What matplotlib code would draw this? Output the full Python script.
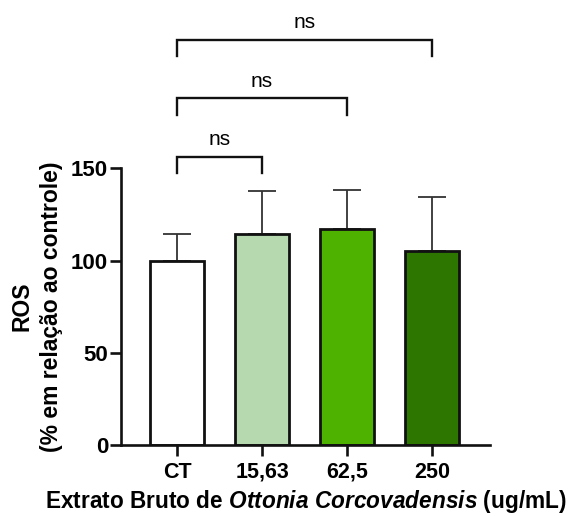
import matplotlib
matplotlib.use("Agg")
import matplotlib.pyplot as plt

plt.rcParams['font.family'] = ['Liberation Sans', 'DejaVu Sans']
plt.rcParams['mathtext.fontset'] = 'custom'
plt.rcParams['mathtext.it'] = 'Liberation Sans:italic:bold'
plt.rcParams['mathtext.rm'] = 'Liberation Sans:bold'

categories = ["CT", "15,63", "62,5", "250"]
means = [100.0, 114.5, 117.0, 105.2]
errors = [14.2, 23.2, 21.0, 29.5]
comparisons = [(0, 1), (0, 2), (0, 3)]
comp_labels = ["ns", "ns", "ns"]

bar_colors = ["#ffffff", "#b6d9b0", "#4db300", "#2d7600"]

fig = plt.figure(figsize=(5.7, 5.16), dpi=100)
ax = fig.add_axes([120.7 / 570, 71 / 516, 369.3 / 570, 276.7 / 516])

x = list(range(len(categories)))
ax.bar(x, means, width=0.635, color=bar_colors, edgecolor="#111111",
       linewidth=2.0, zorder=2)
ax.errorbar(x, means, yerr=[[0] * len(errors), errors], fmt="none",
            ecolor="#333333", elinewidth=1.3, capsize=10, capthick=1.3, zorder=1)

ax.set_xlim(-0.662, 3.678)
ax.set_ylim(0, 150)
ax.set_yticks([0, 50, 100, 150])
ax.set_xticks(x)
ax.set_xticklabels(categories)

for s in ["top", "right"]:
    ax.spines[s].set_visible(False)
for s in ["left", "bottom"]:
    ax.spines[s].set_linewidth(1.9)
    ax.spines[s].set_color("#111111")

ax.tick_params(axis="both", length=8, width=1.9, color="#111111",
               labelsize=16)
ax.tick_params(axis="x", pad=4, labelsize=15.5)
ax.tick_params(axis="y", pad=1)
for lab in ax.get_xticklabels() + ax.get_yticklabels():
    lab.set_fontweight("bold")

ax.set_ylabel("ROS\n(% em relação ao controle)", fontsize=16.5,
              fontweight="bold", linespacing=1.4)
ax.yaxis.set_label_coords(-0.155, 0.5)

ax.set_xlabel(r"Extrato Bruto de $\mathit{Ottonia\ Corcovadensis}$ (ug/mL)",
              fontsize=16.3, fontweight="bold", labelpad=4)

# significance brackets
base_bottom = 147.3
base_top = 156.3
step = 31.7
for i, ((a, b), lab) in enumerate(zip(comparisons, comp_labels)):
    yb = base_bottom + i * step
    yt = base_top + i * step
    ax.plot([a, a, b, b], [yb, yt, yt, yb], color="#111111", lw=1.7,
            clip_on=False, solid_joinstyle="miter")
    ax.text((a + b) / 2, yt + 4, lab, ha="center", va="bottom",
            fontsize=15, clip_on=False)

fig.savefig("out.png", dpi=100)
